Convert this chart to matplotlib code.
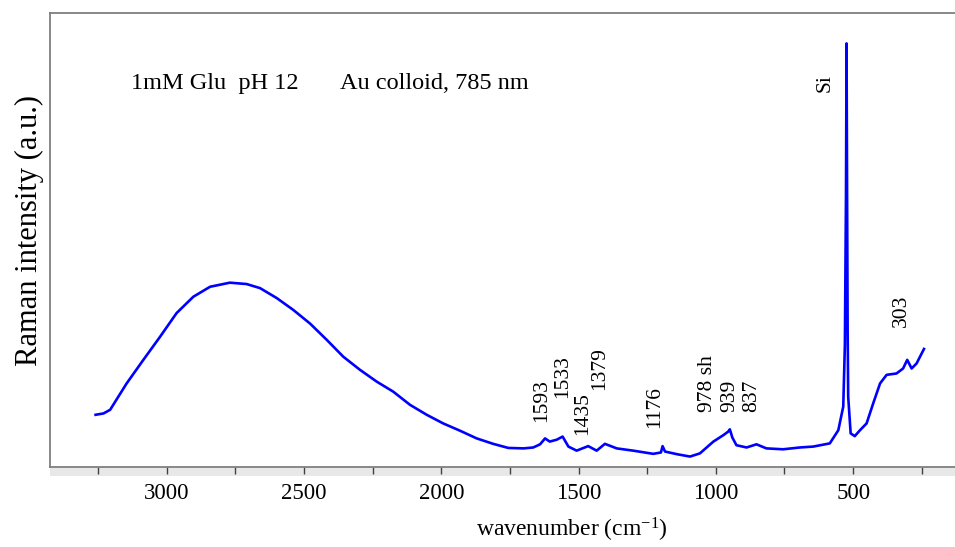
import matplotlib
matplotlib.use("Agg")
import matplotlib.pyplot as plt
from matplotlib.patches import Rectangle
from matplotlib.ticker import FixedLocator

plt.rcParams['font.family'] = ['Liberation Serif', 'DejaVu Serif']
plt.rcParams['mathtext.fontset'] = 'custom'
plt.rcParams['mathtext.rm'] = 'Liberation Serif'
plt.rcParams['mathtext.it'] = 'Liberation Serif:italic'

# ---- data ----
wavenumber = [3259, 3230, 3206, 3146, 3085, 3024, 2964, 2903, 2842, 2770, 2709, 2660,
              2599, 2539, 2478, 2417, 2357, 2296, 2235, 2175, 2114, 2053, 1993, 1932,
              1871, 1811, 1756, 1700, 1665, 1640, 1622, 1605, 1580, 1558, 1537, 1507,
              1465, 1434, 1404, 1361, 1301, 1228, 1200, 1194, 1185, 1140, 1094, 1058,
              1009, 973, 955, 949, 940, 925, 888, 852, 816, 755, 694, 645, 585, 554,
              536, 530, 526, 524, 522, 520, 518, 509, 494, 475, 451, 427, 402, 378,
              342, 318, 303, 287, 269, 242]
intensity = [11.5, 11.8, 12.6, 18.4, 23.6, 28.7, 33.9, 37.5, 39.7, 40.6, 40.3, 39.4,
             37.2, 34.6, 31.6, 28.0, 24.3, 21.4, 18.8, 16.6, 13.7, 11.5, 9.6, 8.0,
             6.3, 5.1, 4.2, 4.1, 4.3, 5.0, 6.3, 5.6, 6.0, 6.7, 4.5, 3.6,
             4.6, 3.6, 5.1, 4.1, 3.6, 2.9, 3.2, 4.6, 3.4, 2.8, 2.3, 3.0,
             5.6, 7.0, 7.8, 8.3, 6.5, 4.8, 4.3, 5.0, 4.1, 3.9, 4.3, 4.5, 5.2, 8.1,
             13.3, 27.0, 60.0, 93.3, 60.0, 30.0, 15.5, 7.4, 6.8, 8.1, 9.6, 14.0, 18.4, 20.3,
             20.6, 21.7, 23.6, 21.7, 22.8, 26.0]

peak_labels = ['1593', '1533', '1435', '1379', '1176', '978 sh', '939', '837', 'Si', '303']
label_x = [1634, 1557, 1484, 1422, 1222, 1029, 949, 870, 603, 323]
label_y = [9.9, 15.2, 7.0, 17.0, 8.6, 12.1, 12.1, 12.1, 82.6, 30.8]

major_ticks = [3000, 2500, 2000, 1500, 1000, 500]
minor_ticks = [3250, 2750, 2250, 1750, 1250, 750, 250]

W, H = 955, 547
fig = plt.figure(figsize=(W / 100, H / 100), dpi=100)
ax = fig.add_axes([50 / W, 1 - 467 / H, 1 - 50 / W, (467 - 13) / H])

ax.plot(wavenumber, intensity, color='#0000ff', lw=1.9)

ax.set_xlim(3425, 129)
ax.set_ylim(0, 100)

for s in ['left', 'top', 'bottom']:
    ax.spines[s].set_color('#7f7f7f')
    ax.spines[s].set_linewidth(1.3)
ax.spines['right'].set_visible(False)

ax.set_yticks([])
ax.xaxis.set_major_locator(FixedLocator(major_ticks))
ax.xaxis.set_minor_locator(FixedLocator(minor_ticks))
ax.tick_params(axis='x', which='both', direction='out', length=5, width=1,
               color='#404040', labelsize=16.5, pad=6.5)

# light grey band under the x axis
ax.add_patch(Rectangle((0, -9 / 454), 1, 9 / 454, transform=ax.transAxes,
                       facecolor='#e8e8e8', edgecolor='none', clip_on=False, zorder=0))

for t, x, y in zip(peak_labels, label_x, label_y):
    ax.text(x, y, t, rotation=90, ha='center', va='bottom', fontsize=15.5)

fig.text(131 / W, 1 - 89 / H, '1mM Glu  pH 12', fontsize=17.5, va='baseline', ha='left')
fig.text(340 / W, 1 - 89 / H, 'Au colloid, 785 nm', fontsize=17.5, va='baseline', ha='left')

fig.text(29 / W, 1 - 230 / H, 'Raman intensity (a.u.)', rotation=90, fontsize=22,
         ha='center', va='center')
fig.text(572 / W, 1 - 530 / H, 'wavenumber (cm$^{-1}$)', fontsize=17,
         ha='center', va='center')

fig.savefig('out.png', dpi=100)
